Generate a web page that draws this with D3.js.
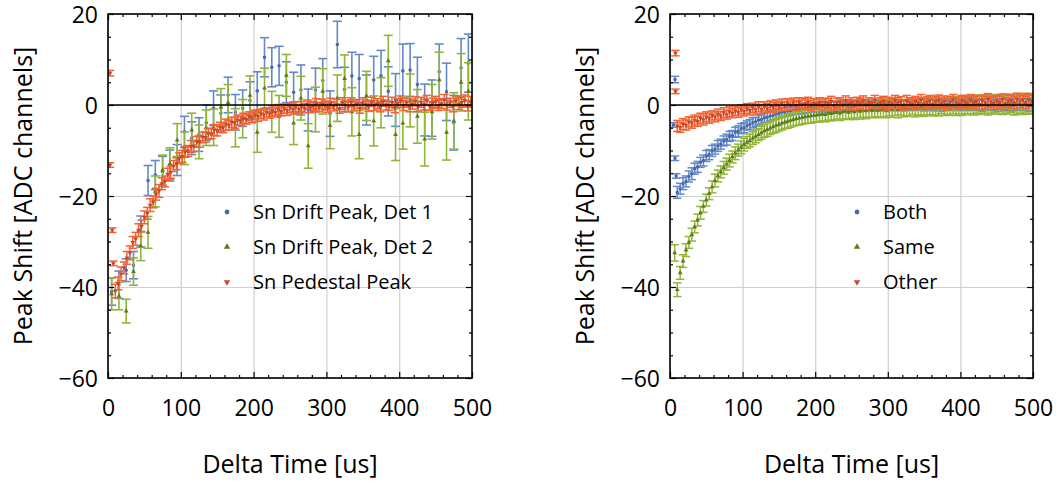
<!DOCTYPE html>
<html>
<head>
<meta charset="utf-8">
<script src="https://cdn.jsdelivr.net/npm/d3@7"></script>
<style>
  body { margin: 0; background: #fff; }
  svg text { font-family: "Open Sans", sans-serif; fill: #000; }
</style>
</head>
<body>
<svg id="chart" width="1056" height="482"></svg>
<script>
// sample times (us) for the dense pedestal / coincidence series
const tDense = [10,14,18,22,26,30,34,38,42,46,50,54,58,62,66,70,74,78,82,86,
  90,94,98,102,106,110,114,118,122,126,130,134,138,142,146,150,154,158,162,166,
  170,174,178,182,186,190,194,198,202,206,210,214,218,222,226,230,234,238,242,246,
  250,254,258,262,266,270,274,278,282,286,290,294,298,302,306,310,314,318,322,326,
  330,334,338,342,346,350,354,358,362,366,370,374,378,382,386,390,394,398,402,406,
  410,414,418,422,426,430,434,438,442,446,450,454,458,462,466,470,474,478,482,486,
  490,494,498];
// sample times (us) for the drift peak series
const tDrift = [5,15,25,35,45,55,65,75,85,95,105,115,125,135,145,155,165,175,185,195,
  205,215,225,235,245,255,265,275,285,295,305,315,325,335,345,355,365,375,385,395,
  405,415,425,435,445,455,465,475,485,495];

// left panel
const det1 = [-41,-39.5,-36.3,-35.2,-27.8,-16.6,-15.4,-14.6,-13.3,-12.1,
  -5.9,-7.3,-6.5,-3.9,-0.7,-1.8,2.2,-1.6,-0.7,1.0,
  3.1,10.5,8.3,8.6,5.0,2.8,3.3,-1.1,3.3,5.4,
  -1.9,13.3,3.4,6.4,5.8,1.1,5.5,6.4,3.0,1.1,
  7.5,7.7,4.5,-1.1,-0.7,7.3,2.9,-3.9,8.2,9.2];
const det1Err = [3.0,3.0,2.5,3.0,3.4,3.3,3.2,3.3,3.4,3.4,
  3.4,3.6,3.7,3.9,3.8,4.0,3.9,3.9,4.0,4.1,
  4.2,4.3,4.3,4.3,4.5,4.4,5.5,4.6,4.8,4.8,
  5.0,5.1,4.9,5.2,5.3,5.5,5.2,5.6,5.4,5.8,
  5.9,5.8,6.0,5.7,6.2,6.1,6.3,6.0,6.4,6.4];
const det2 = [-41.5,-42,-45.3,-36.6,-31,-28,-19,-14.3,-12.9,-7.7,
  -9.5,-5.5,-8.1,-5,-4.9,-0.5,0.5,-5,-3,2.1,
  -6,3.7,-1.5,-2.5,6.5,-4,1.5,-9,-1,3,
  -4.5,1.5,5.8,-1.5,-6.5,2,-3.5,0.5,9.7,-6.5,
  -4,1,-2.5,-7.5,-1.5,5.5,-6,-3.5,5,3];
const det2Err = [3.5,3.0,2.6,3.0,3.2,3.5,3.4,3.3,3.5,3.6,
  3.6,3.7,3.7,3.9,4.0,4.1,4.0,4.2,4.2,4.3,
  4.4,4.4,4.5,4.6,4.6,4.7,4.8,4.9,4.9,5.0,
  5.1,5.1,5.2,5.3,5.3,5.4,5.5,5.5,5.6,5.7,
  5.7,5.8,5.9,5.9,6.0,6.1,6.1,6.2,6.3,6.3];
const pedestal = [-40.9,-39.2,-37.1,-35.8,-33.6,-32.5,-30.2,-29.4,-27.5,-26.6,
  -24.7,-23.8,-22.0,-21.3,-19.6,-18.9,-17.3,-16.8,-15.2,-14.8,
  -13.4,-12.9,-11.7,-11.3,-10.3,-10.1,-9.1,-9.0,-8.1,-8.0,
  -7.1,-7.1,-6.3,-6.3,-5.5,-5.6,-4.9,-5.0,-4.3,-4.4,
  -3.8,-3.9,-3.3,-3.5,-2.9,-3.1,-2.5,-2.8,-2.2,-2.5,
  -1.9,-2.2,-1.6,-1.9,-1.3,-1.6,-1.0,-1.4,-0.8,-1.2,
  -0.6,-1.0,-0.4,-0.9,-0.3,-0.7,0.1,-0.6,-0.2,0.3,
  -0.5,0.2,-0.1,-0.6,0.4,-0.3,0.1,-0.8,0.5,0.0,
  -0.4,0.6,-0.2,0.2,-0.7,0.5,0.1,-0.3,0.7,-0.1,
  0.3,-0.5,0.8,0.0,-0.2,0.6,-0.6,0.4,0.9,-0.1,
  0.5,-0.4,0.2,0.8,-0.3,0.6,0.1,1.0,-0.2,0.4,
  0.7,-0.1,0.3,1.1,0.0,0.5,-0.3,0.9,0.2,0.6,
  1.0,-0.2,0.7];
const pedestalErr = [1.5,1.4,1.5,1.3,1.4,1.5,1.3,1.4,1.4,1.3,
  1.4,1.3,1.4,1.3,1.3,1.4,1.3,1.2,1.3,1.3,
  1.2,1.3,1.2,1.3,1.2,1.2,1.3,1.2,1.2,1.3,
  1.2,1.1,1.2,1.1,1.2,1.2,1.1,1.1,1.2,1.1,
  1.1,1.2,1.1,1.0,1.1,1.1,1.0,1.1,1.0,1.1,
  1.0,1.1,1.0,1.0,1.1,1.0,1.1,1.0,1.0,1.1,
  1.0,1.0,1.1,1.0,1.1,1.0,1.0,1.1,1.0,1.1,
  1.0,1.1,1.0,1.0,1.1,1.0,1.1,1.0,1.1,1.0,
  1.1,1.0,1.1,1.0,1.1,1.1,1.0,1.1,1.0,1.1,
  1.1,1.0,1.1,1.1,1.0,1.1,1.1,1.0,1.1,1.1,
  1.0,1.1,1.1,1.0,1.1,1.1,1.2,1.1,1.0,1.1,
  1.2,1.1,1.1,1.2,1.1,1.0,1.2,1.1,1.2,1.1,
  1.2,1.1,1.2];
// early stray pedestal points
const pedestalEarlyT = [2.7,2.7,5.9,7.3];
const pedestalEarly = [7.0,-13.2,-27.5,-34.8];
const pedestalEarlyErr = [0.6,0.5,0.5,0.5];

// right panel
const both = [-19.2,-18.4,-17.3,-16.8,-15.7,-15.1,-14.0,-13.6,-12.6,-12.2,
  -11.2,-10.9,-10.1,-9.7,-9.0,-8.6,-7.9,-7.6,-6.9,-6.7,
  -6.0,-5.8,-5.2,-5.0,-4.5,-4.3,-3.9,-3.7,-3.3,-3.2,
  -2.8,-2.7,-2.4,-2.3,-2.0,-1.9,-1.6,-1.6,-1.3,-1.3,
  -1.1,-1.0,-0.9,-0.9,-0.7,-0.7,-0.6,-0.5,-0.5,-0.4,
  -0.4,-0.3,-0.5,-0.2,-0.3,-0.4,-0.1,-0.3,-0.2,-0.4,
  -0.1,-0.3,-0.2,0.0,-0.3,-0.1,-0.2,0.0,-0.3,-0.1,
  -0.2,0.1,-0.3,-0.1,0.0,-0.2,0.1,-0.1,-0.2,0.0,
  -0.1,0.1,-0.2,0.0,0.1,-0.1,0.0,0.2,-0.1,0.0,
  0.1,-0.2,0.0,0.2,-0.1,0.1,0.0,-0.1,0.2,0.0,
  0.1,-0.1,0.2,0.0,0.1,-0.2,0.1,0.2,0.0,0.1,
  -0.1,0.2,0.0,0.1,0.3,-0.1,0.1,0.2,0.0,0.1,
  0.2,-0.1,0.1];
const bothErr = [1.3,1.2,1.3,1.2,1.2,1.3,1.2,1.2,1.1,1.2,
  1.2,1.1,1.2,1.1,1.2,1.1,1.1,1.2,1.1,1.1,
  1.1,1.2,1.1,1.1,1.0,1.1,1.1,1.0,1.1,1.0,
  1.0,1.1,1.0,1.0,1.1,1.0,1.0,1.0,1.1,1.0,
  1.0,1.0,1.0,1.1,1.0,1.0,1.0,1.0,1.0,1.1,
  1.0,1.0,1.1,1.0,1.0,1.0,1.1,1.0,1.0,1.0,
  1.1,1.0,1.0,1.1,1.0,1.1,1.0,1.0,1.1,1.0,
  1.1,1.0,1.1,1.0,1.1,1.1,1.0,1.1,1.1,1.0,
  1.1,1.1,1.0,1.1,1.1,1.2,1.1,1.1,1.2,1.1,
  1.1,1.2,1.1,1.2,1.1,1.2,1.2,1.1,1.2,1.2,
  1.2,1.1,1.2,1.2,1.3,1.2,1.2,1.3,1.2,1.2,
  1.3,1.2,1.3,1.3,1.2,1.3,1.3,1.3,1.2,1.3,
  1.3,1.3,1.4];
const bothEarlyT = [6.9,4.6,6.9,8.5];
const bothEarly = [5.6,-4.4,-11.7,-15.6];
const bothEarlyErr = [0.7,0.5,0.5,0.5];

const same = [-40.6,-36.9,-34.3,-31.9,-30.2,-28.5,-26.8,-25.3,-23.7,-22.3,
  -20.9,-19.5,-18.0,-16.6,-15.6,-14.7,-13.8,-13.0,-12.2,-11.4,
  -10.6,-9.9,-9.3,-8.7,-8.2,-7.8,-7.3,-6.9,-6.5,-6.1,
  -5.7,-5.4,-5.1,-4.8,-4.5,-4.3,-4.0,-3.8,-3.6,-3.4,
  -3.2,-3.0,-2.9,-2.7,-2.6,-2.5,-2.4,-2.3,-2.2,-2.1,
  -2.0,-2.1,-1.8,-1.9,-1.7,-1.6,-1.8,-1.5,-1.4,-1.6,
  -1.3,-1.5,-1.2,-1.4,-1.1,-1.3,-1.0,-1.2,-0.9,-1.1,
  -1.0,-0.8,-1.1,-0.7,-0.9,-0.6,-1.0,-0.5,-0.8,-0.6,
  -0.7,-0.4,-0.8,-0.5,-0.3,-0.7,-0.4,-0.2,-0.6,-0.3,
  -0.5,-0.1,-0.4,-0.2,-0.5,0.0,-0.3,-0.1,-0.4,0.1,
  -0.2,0.0,-0.3,0.2,-0.1,0.0,0.2,-0.2,0.1,0.3,
  0.0,0.2,-0.1,0.3,0.1,0.4,-0.1,0.2,0.3,0.0,
  0.4,0.1,0.3];
const sameErr = [1.5,1.4,1.4,1.4,1.3,1.4,1.3,1.3,1.4,1.3,
  1.3,1.3,1.3,1.4,1.3,1.3,1.4,1.3,1.4,1.3,
  1.4,1.3,1.4,1.4,1.3,1.4,1.4,1.4,1.3,1.4,
  1.4,1.5,1.4,1.4,1.5,1.4,1.5,1.4,1.5,1.5,
  1.4,1.5,1.5,1.5,1.5,1.5,1.6,1.5,1.5,1.6,
  1.5,1.6,1.5,1.6,1.6,1.5,1.6,1.6,1.7,1.6,
  1.6,1.7,1.6,1.7,1.6,1.7,1.7,1.6,1.7,1.7,
  1.7,1.8,1.7,1.7,1.8,1.7,1.8,1.7,1.8,1.8,
  1.8,1.7,1.8,1.8,1.9,1.8,1.8,1.9,1.8,1.9,
  1.9,1.8,1.9,1.9,1.8,1.9,2.0,1.9,1.9,2.0,
  1.9,2.0,1.9,2.0,2.0,1.9,2.0,2.0,2.1,2.0,
  2.0,2.1,2.0,2.1,2.1,2.0,2.1,2.2,2.1,2.1,
  2.2,2.1,2.2];
const sameEarlyT = [6.5];
const sameEarly = [-32.5];
const sameEarlyErr = [1.8];

const other = [-4.6,-4.9,-4.2,-4.4,-3.7,-3.9,-3.3,-3.6,-2.9,-3.2,
  -2.6,-2.9,-2.3,-2.6,-2.0,-2.4,-1.7,-2.1,-1.5,-1.8,
  -1.3,-1.6,-1.0,-1.4,-0.8,-1.2,-0.6,-1.0,-0.4,-0.9,
  -0.3,-0.7,-0.1,-0.5,0.1,-0.3,0.3,-0.2,0.4,0.0,
  0.5,-0.1,0.6,0.1,0.3,0.7,-0.1,0.4,0.2,0.6,
  0.0,0.5,0.3,0.8,-0.1,0.4,0.6,0.1,0.9,0.2,
  0.5,0.0,0.7,0.3,0.9,0.1,0.6,0.4,1.0,0.2,
  0.5,0.8,0.1,0.6,0.3,1.0,0.4,0.7,0.0,0.9,
  0.5,0.2,0.8,0.4,1.1,0.3,0.6,0.9,0.2,0.7,
  1.0,0.4,0.8,0.1,0.6,1.2,0.5,0.3,0.9,0.7,
  0.4,1.1,0.6,0.8,0.2,1.0,0.5,1.3,0.7,0.4,
  0.9,0.6,1.2,0.3,0.8,1.0,0.5,1.3,0.7,1.1,
  0.6,1.2,0.9];
const otherErr = [1.2,1.1,1.2,1.1,1.1,1.2,1.1,1.1,1.1,1.2,
  1.1,1.1,1.0,1.1,1.1,1.0,1.1,1.0,1.1,1.0,
  1.0,1.1,1.0,1.0,1.1,1.0,1.0,1.0,1.1,1.0,
  1.0,1.0,1.0,1.1,1.0,1.0,1.0,1.0,1.0,1.1,
  1.0,1.1,1.0,1.0,1.1,1.0,1.1,1.0,1.1,1.0,
  1.1,1.0,1.1,1.1,1.0,1.1,1.0,1.1,1.1,1.0,
  1.1,1.1,1.0,1.1,1.1,1.1,1.0,1.1,1.1,1.1,
  1.1,1.1,1.2,1.1,1.1,1.1,1.2,1.1,1.1,1.2,
  1.1,1.2,1.1,1.1,1.2,1.1,1.2,1.2,1.1,1.2,
  1.2,1.1,1.2,1.2,1.2,1.1,1.2,1.2,1.2,1.2,
  1.2,1.2,1.3,1.2,1.2,1.2,1.3,1.2,1.2,1.3,
  1.2,1.3,1.2,1.3,1.3,1.2,1.3,1.3,1.3,1.2,
  1.3,1.3,1.3];
const otherEarlyT = [7.5,7.5];
const otherEarly = [11.4,3.0];
const otherEarlyErr = [0.6,0.5];

const xTicks = [0,100,200,300,400,500];
const yTicks = [-60,-40,-20,0,20];

const colors = {
  blue:   {bar: "#6389c9", mark: "#4a6aa4"},
  green:  {bar: "#90b636", mark: "#5c7c1c"},
  orange: {bar: "#f26232", mark: "#c9482a"}
};

const zip = (t, v, e) => t.map((d, i) => ({t: d, v: v[i], e: e[i]}));

const panels = [
  {
    left: 108, right: 472,
    legendX: 227,
    series: [
      {name: "Sn Drift Peak, Det 1", color: colors.blue, sym: d3.symbolCircle,
        pts: zip(tDrift, det1, det1Err), cap: 4.5, lw: 1.6},
      {name: "Sn Drift Peak, Det 2", color: colors.green, sym: d3.symbolTriangle,
        pts: zip(tDrift, det2, det2Err), cap: 4.5, lw: 1.6},
      {name: "Sn Pedestal Peak", color: colors.orange, sym: "down",
        pts: zip(pedestalEarlyT, pedestalEarly, pedestalEarlyErr).concat(zip(tDense, pedestal, pedestalErr)),
        cap: 4.2, lw: 1.5}
    ]
  },
  {
    left: 670, right: 1033,
    legendX: 857,
    series: [
      {name: "Both", color: colors.blue, sym: d3.symbolCircle,
        pts: zip(bothEarlyT, bothEarly, bothEarlyErr).concat(zip(tDense, both, bothErr)),
        cap: 4.2, lw: 1.5},
      {name: "Same", color: colors.green, sym: d3.symbolTriangle,
        pts: zip(sameEarlyT, sameEarly, sameEarlyErr).concat(zip(tDense, same, sameErr)),
        cap: 4.2, lw: 1.5},
      {name: "Other", color: colors.orange, sym: "down",
        pts: zip(otherEarlyT, otherEarly, otherEarlyErr).concat(zip(tDense, other, otherErr)),
        cap: 4.2, lw: 1.5}
    ]
  }
];

const plotTop = 14, plotBottom = 378;
const svg = d3.select("#chart");

function symbolPath(sym, size) {
  if (sym === "down") return d3.symbol(d3.symbolTriangle, size)();
  return d3.symbol(sym, size)();
}

panels.forEach(p => {
  const x = d3.scaleLinear([0, 500], [p.left, p.right]);
  const y = d3.scaleLinear([-60, 20], [plotBottom, plotTop]);
  const g = svg.append("g");
  const w = p.right - p.left, h = plotBottom - plotTop;

  // grid
  g.append("g")
    .attr("transform", `translate(0,${plotBottom})`)
    .call(d3.axisBottom(x).tickValues(xTicks).tickSize(-h).tickFormat(""))
    .call(a => a.select(".domain").remove())
    .call(a => a.selectAll("line").attr("stroke", "#d0d0d0").attr("stroke-width", 1.2));
  g.append("g")
    .attr("transform", `translate(${p.left},0)`)
    .call(d3.axisLeft(y).tickValues(yTicks).tickSize(-w).tickFormat(""))
    .call(a => a.select(".domain").remove())
    .call(a => a.selectAll("line").attr("stroke", "#d0d0d0").attr("stroke-width", 1.2));

  // series with error bars
  const clip = "clip" + p.left;
  svg.append("clipPath").attr("id", clip)
    .append("rect").attr("x", p.left).attr("y", plotTop).attr("width", w).attr("height", h);
  const data = g.append("g").attr("clip-path", `url(#${clip})`);

  p.series.forEach(s => {
    const sg = data.append("g")
      .attr("stroke", s.color.bar)
      .attr("stroke-width", s.lw);
    const pt = sg.selectAll("g").data(s.pts).join("g");
    pt.append("line")
      .attr("x1", d => x(d.t)).attr("x2", d => x(d.t))
      .attr("y1", d => y(d.v - d.e)).attr("y2", d => y(d.v + d.e));
    pt.append("line")
      .attr("x1", d => x(d.t) - s.cap).attr("x2", d => x(d.t) + s.cap)
      .attr("y1", d => y(d.v - d.e)).attr("y2", d => y(d.v - d.e));
    pt.append("line")
      .attr("x1", d => x(d.t) - s.cap).attr("x2", d => x(d.t) + s.cap)
      .attr("y1", d => y(d.v + d.e)).attr("y2", d => y(d.v + d.e));
    sg.selectAll("path").data(s.pts).join("path")
      .attr("d", symbolPath(s.sym, 10))
      .attr("transform", d => `translate(${x(d.t)},${y(d.v)})` + (s.sym === "down" ? " rotate(180)" : ""))
      .attr("fill", s.color.mark)
      .attr("stroke", "none");
  });

  // zero line
  g.append("line")
    .attr("x1", p.left).attr("x2", p.right)
    .attr("y1", y(0)).attr("y2", y(0))
    .attr("stroke", "#000").attr("stroke-width", 1.6);

  // ticks on all four sides, pointing inward
  const minorX = d3.range(0, 501, 20).filter(v => v % 100 !== 0);
  const minorY = d3.range(-60, 21, 5).filter(v => v % 20 !== 0);
  const fontSize = 23;

  const bx = g.append("g").attr("transform", `translate(0,${plotBottom})`)
    .call(d3.axisBottom(x).tickValues(xTicks).tickSize(-6).tickPadding(22).tickSizeOuter(0));
  bx.selectAll("text").attr("font-size", fontSize);
  g.append("g").attr("transform", `translate(0,${plotBottom})`)
    .call(d3.axisBottom(x).tickValues(minorX).tickSize(-3).tickFormat("").tickSizeOuter(0));
  g.append("g").attr("transform", `translate(0,${plotTop})`)
    .call(d3.axisTop(x).tickValues(xTicks).tickSize(-6).tickFormat("").tickSizeOuter(0));
  g.append("g").attr("transform", `translate(0,${plotTop})`)
    .call(d3.axisTop(x).tickValues(minorX).tickSize(-3).tickFormat("").tickSizeOuter(0));

  const ly = g.append("g").attr("transform", `translate(${p.left},0)`)
    .call(d3.axisLeft(y).tickValues(yTicks).tickSize(-6).tickPadding(10).tickSizeOuter(0));
  ly.selectAll("text").attr("font-size", fontSize).attr("dy", "0.36em");
  g.append("g").attr("transform", `translate(${p.left},0)`)
    .call(d3.axisLeft(y).tickValues(minorY).tickSize(-3).tickFormat("").tickSizeOuter(0));
  g.append("g").attr("transform", `translate(${p.right},0)`)
    .call(d3.axisRight(y).tickValues(yTicks).tickSize(-6).tickFormat("").tickSizeOuter(0));
  g.append("g").attr("transform", `translate(${p.right},0)`)
    .call(d3.axisRight(y).tickValues(minorY).tickSize(-3).tickFormat("").tickSizeOuter(0));

  g.selectAll(".domain").remove();
  g.selectAll(".tick line").filter(function () { return this.getAttribute("stroke") === "currentColor"; })
    .attr("stroke", "#000").attr("stroke-width", 1.2);

  // frame
  g.append("rect")
    .attr("x", p.left).attr("y", plotTop).attr("width", w).attr("height", h)
    .attr("fill", "none").attr("stroke", "#000").attr("stroke-width", 1.6);

  // axis titles
  g.append("text")
    .attr("x", (p.left + p.right) / 2).attr("y", 473)
    .attr("text-anchor", "middle").attr("font-size", 25)
    .text("Delta Time [us]");
  g.append("text")
    .attr("transform", `translate(${p.left - 85},${(plotTop + plotBottom) / 2}) rotate(-90)`)
    .attr("text-anchor", "middle").attr("dy", "0.35em").attr("font-size", 25)
    .text("Peak Shift [ADC channels]");

  // legend
  const leg = g.append("g").selectAll("g").data(p.series).join("g")
    .attr("transform", (d, i) => `translate(${p.legendX},${212 + i * 35})`);
  leg.append("path")
    .attr("d", d => symbolPath(d.sym, 18))
    .attr("transform", d => d.sym === "down" ? "rotate(180)" : null)
    .attr("fill", d => d.color.mark);
  leg.append("text")
    .attr("x", 26).attr("dy", "0.36em")
    .attr("font-size", 20)
    .text(d => d.name);
});
</script>
</body>
</html>
